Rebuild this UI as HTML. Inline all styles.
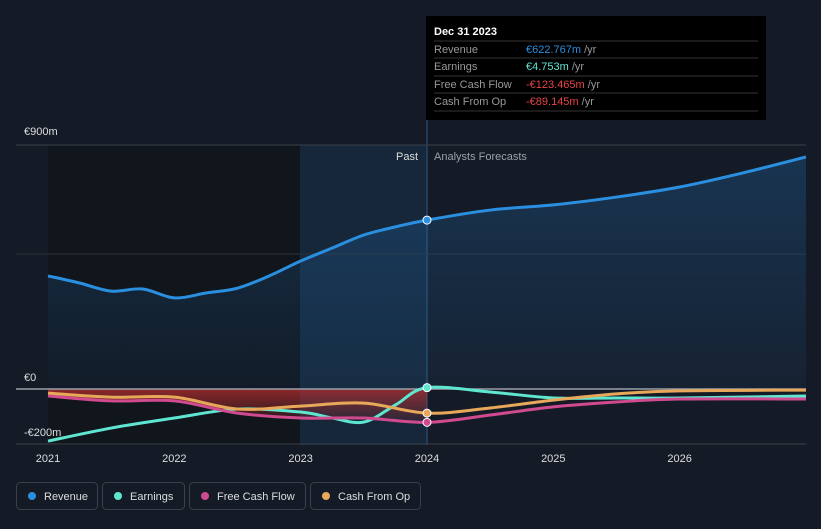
<!DOCTYPE html>
<html><head><meta charset="utf-8"><style>
body{margin:0;background:#151b26;font-family:"Liberation Sans",sans-serif;}
svg text{font-family:"Liberation Sans",sans-serif;}
</style></head><body>
<svg id="chart" width="821" height="524" xmlns="http://www.w3.org/2000/svg">
<defs>
<linearGradient id="revFill" x1="0" y1="0" x2="0" y2="1"><stop offset="0" stop-color="#1f6fb5" stop-opacity="0.3"/><stop offset="1" stop-color="#1f6fb5" stop-opacity="0.08"/></linearGradient>
<linearGradient id="negFill" x1="0" y1="0" x2="0" y2="1"><stop offset="0" stop-color="#c0302f" stop-opacity="0.7"/><stop offset="1" stop-color="#c0302f" stop-opacity="0.1"/></linearGradient>
</defs>
<rect width="821" height="524" fill="#151b26"/>
<rect x="48" y="145" width="252" height="300" fill="#11151c"/>
<rect x="300" y="145" width="127" height="300" fill="#17324a" opacity="0.55"/>
<line x1="427" y1="120" x2="427" y2="445" stroke="#2a5a80" stroke-width="1"/>
<line x1="16" y1="145" x2="806" y2="145" stroke="#3a404a"/>
<line x1="16" y1="254" x2="806" y2="254" stroke="#2a3038"/>
<line x1="16" y1="444" x2="806" y2="444" stroke="#3a404a"/>
<g id="areas"></g>
<line x1="16" y1="389" x2="806" y2="389" stroke="#9aa0a8" stroke-width="1.5"/>
<g id="lines"></g>
<text x="24" y="135" fill="#ddd" font-size="11">€900m</text>
<text x="24" y="381" fill="#ddd" font-size="11">€0</text>
<text x="24" y="436" fill="#ddd" font-size="11">-€200m</text>
<text x="418" y="160" fill="#ddd" font-size="11" text-anchor="end">Past</text>
<text x="434" y="160" fill="#9aa0a8" font-size="11">Analysts Forecasts</text>
<g id="xticks"></g>
<g>
<rect x="426" y="16" width="340" height="104" fill="#000"/>
<text x="434" y="35" fill="#fff" font-size="11" font-weight="bold">Dec 31 2023</text>
<line x1="434" y1="41" x2="758" y2="41" stroke="#333"/>
<text x="434" y="53" fill="#999" font-size="11">Revenue</text><text x="526" y="53" fill="#2b8fe0" font-size="11">€622.767m <tspan fill="#999">/yr</tspan></text>
<line x1="434" y1="58" x2="758" y2="58" stroke="#333"/>
<text x="434" y="70" fill="#999" font-size="11">Earnings</text><text x="526" y="70" fill="#5ee6d0" font-size="11">€4.753m <tspan fill="#999">/yr</tspan></text>
<line x1="434" y1="76" x2="758" y2="76" stroke="#333"/>
<text x="434" y="88" fill="#999" font-size="11">Free Cash Flow</text><text x="526" y="88" fill="#e84545" font-size="11">-€123.465m <tspan fill="#999">/yr</tspan></text>
<line x1="434" y1="93" x2="758" y2="93" stroke="#333"/>
<text x="434" y="105" fill="#999" font-size="11">Cash From Op</text><text x="526" y="105" fill="#e84545" font-size="11">-€89.145m <tspan fill="#999">/yr</tspan></text>
<line x1="434" y1="111" x2="758" y2="111" stroke="#333"/>
</g>
<g>
<g><rect x="16.5" y="482.5" width="81" height="27" rx="4" fill="none" stroke="#3a404a"/><circle cx="32" cy="496" r="4" fill="#2b8fe0"/><text x="44" y="500" fill="#ddd" font-size="11">Revenue</text></g>
<g><rect x="102.5" y="482.5" width="82" height="27" rx="4" fill="none" stroke="#3a404a"/><circle cx="118" cy="496" r="4" fill="#5ee6d0"/><text x="130" y="500" fill="#ddd" font-size="11">Earnings</text></g>
<g><rect x="189.5" y="482.5" width="116" height="27" rx="4" fill="none" stroke="#3a404a"/><circle cx="205" cy="496" r="4" fill="#d04a8f"/><text x="217" y="500" fill="#ddd" font-size="11">Free Cash Flow</text></g>
<g><rect x="310.5" y="482.5" width="110" height="27" rx="4" fill="none" stroke="#3a404a"/><circle cx="326" cy="496" r="4" fill="#e8a85a"/><text x="338" y="500" fill="#ddd" font-size="11">Cash From Op</text></g>
</g>
</svg>
<script>
const revT=[2021,2021.25,2021.5,2021.75,2022,2022.25,2022.5,2022.75,2023,2023.25,2023.5,2023.75,2024,2024.5,2025,2025.5,2026,2026.5,2027];
const revV=[417,391,361,369,336,354,372,417,472,520,568,598,623,660,679,708,745,797,856];
const cashT=[2021,2021.5,2022,2022.5,2023,2023.5,2024,2024.5,2025,2025.5,2026,2027];
const fcfV=[-26,-44,-44,-89,-107,-107,-123,-96,-66,-48,-37,-37];
const cfoV=[-15,-30,-30,-74,-63,-52,-89,-70,-41,-18,-7,-4];
const earnT=[2021,2021.5,2022,2022.5,2023,2023.25,2023.5,2023.75,2024,2024.5,2025,2025.5,2026,2027];
const earnV=[-192,-144,-107,-74,-85,-107,-122,-59,5,-11,-33,-33,-33,-26];
const years=[2021,2022,2023,2024,2025,2026];
const NS="http://www.w3.org/2000/svg";
const xs=t=>48+(t-2021)*126.33, ys=v=>389-v*244/900;
function path(T,V){const p=T.map((t,i)=>[xs(t),ys(V[i])]);let d="M"+p[0][0]+","+p[0][1];
for(let i=0;i<p.length-1;i++){const p0=p[i-1]||p[i],p1=p[i],p2=p[i+1],p3=p[i+2]||p2;
d+=` C${p1[0]+(p2[0]-p0[0])/6},${p1[1]+(p2[1]-p0[1])/6} ${p2[0]-(p3[0]-p1[0])/6},${p2[1]-(p3[1]-p1[1])/6} ${p2[0]},${p2[1]}`;}return d;}
function mk(tag,attrs,parent){const e=document.createElementNS(NS,tag);for(const k in attrs)e.setAttribute(k,attrs[k]);document.getElementById(parent).appendChild(e);return e;}
const last=T=>xs(T[T.length-1]);
let a=mk("path",{d:path(revT,revV)+` L${last(revT)},389 L48,389 Z`,fill:"url(#revFill)"},"areas");


const pastN=7;
a=mk("path",{d:path(cashT.slice(0,pastN),fcfV.slice(0,pastN))+` L${xs(2024)},389 L48,389 Z`,fill:"url(#negFill)"},"areas");


const series=[["revenue-line",revT,revV,"#2b8fe0"],["earnings-line",earnT,earnV,"#5ee6d0"],["free-cash-flow-line",cashT,fcfV,"#d04a8f"],["cash-from-op-line",cashT,cfoV,"#e8a85a"]];
series.forEach(s=>{const e=mk("path",{d:path(s[1],s[2]),fill:"none",stroke:s[3],"stroke-width":3},"lines");


const i=s[1].indexOf(2024);const c=mk("circle",{cx:xs(2024),cy:ys(s[2][i]),r:4,fill:s[3],stroke:"#fff","stroke-width":1},"lines");

});
years.forEach(y=>{const t=mk("text",{x:xs(y),y:462,fill:"#ddd","font-size":11,"text-anchor":"middle"},"xticks");t.textContent=y;

});
</script>
</body></html>
